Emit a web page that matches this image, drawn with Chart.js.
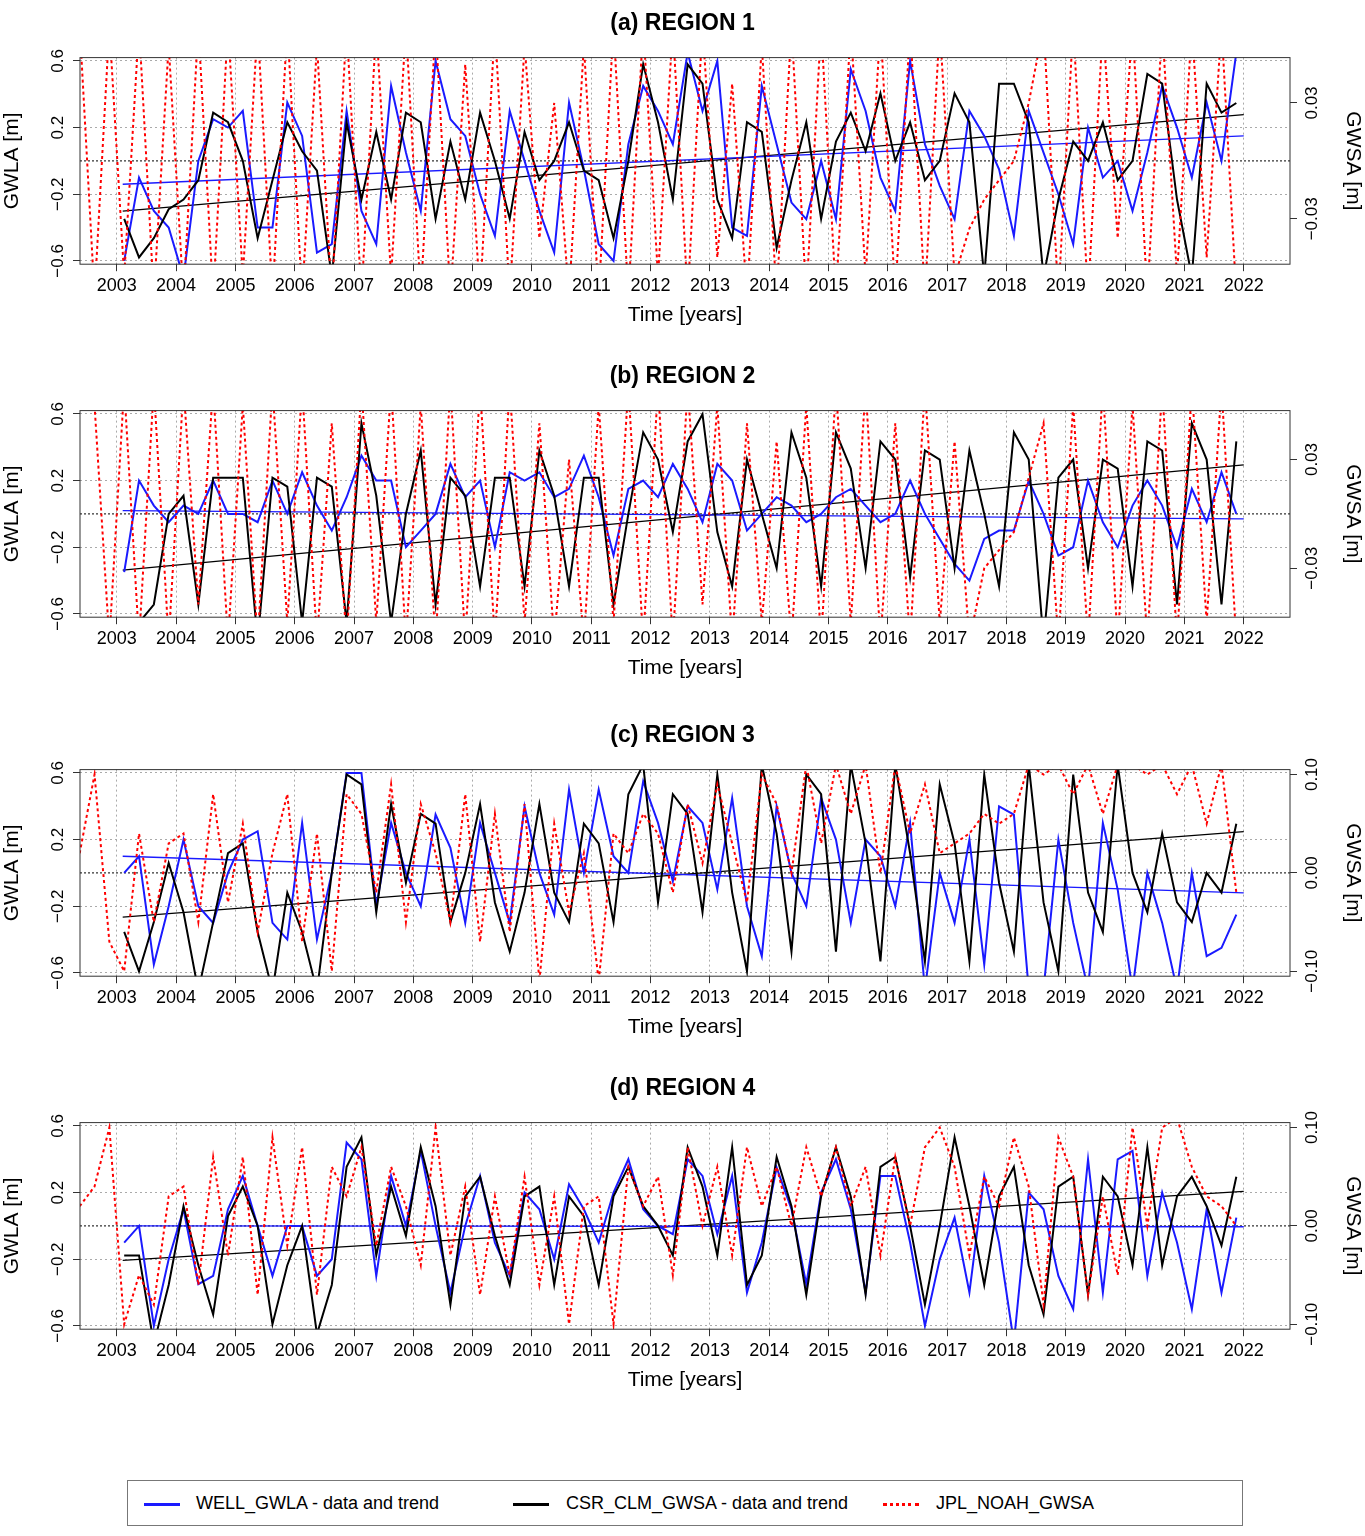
<!DOCTYPE html>
<html><head><meta charset="utf-8">
<script src="https://cdn.jsdelivr.net/npm/chart.js@4.4.1/dist/chart.umd.min.js"></script>
<style>
body{margin:0;background:#fff;font-family:"Liberation Sans",Arial,sans-serif;}
.p{position:absolute;left:0;width:1365px;height:354px;}
#legend{position:absolute;left:127px;top:1480px;width:1114px;height:44px;border:1px solid #777;font-size:18px;}
.it{position:absolute;top:12px;}
.sw{position:absolute;top:22px;width:36px;height:0;}
</style></head><body>
<div class="p" style="top:0"><canvas id="ca"></canvas></div>
<div class="p" style="top:353px"><canvas id="cb"></canvas></div>
<div class="p" style="top:712px"><canvas id="cc"></canvas></div>
<div class="p" style="top:1065px"><canvas id="cd"></canvas></div>
<div id="legend">
 <div class="sw" style="left:16px;border-top:3px solid #1a1aff"></div><div class="it" style="left:68px">WELL_GWLA - data and trend</div>
 <div class="sw" style="left:385px;border-top:3px solid #000"></div><div class="it" style="left:438px">CSR_CLM_GWSA - data and trend</div>
 <div class="sw" style="left:755px;border-top:3px dotted #f00"></div><div class="it" style="left:808px">JPL_NOAH_GWSA</div>
</div>
<script>
const years=[2003,2004,2005,2006,2007,2008,2009,2010,2011,2012,2013,2014,2015,2016,2017,2018,2019,2020,2021,2022];
const leftTicks=[-0.6,-0.2,0.2,0.6];
const leftLabels=["\u22120.6","\u22120.2","0.2","0.6"];
const rightTicksAB=[-0.03,0.03], rightLabelsAB=["\u22120.03","0.03"];
const rightTicksCD=[-0.1,0,0.1], rightLabelsCD=["\u22120.10","0.00","0.10"];
const wellStart=2003.125, jplStart=2002.375, step=0.25;
const trendT=[2003.1,2022];

const wellA=[-0.6,-0.1,-0.3,-0.4, -0.7,0.0,0.25,0.2, 0.3,-0.4,-0.4,0.35, 0.15,-0.55,-0.5,0.3, -0.3,-0.5,0.45,0.05, -0.3,0.6,0.25,0.15, -0.2,-0.45,0.3,0.0, -0.3,-0.55,0.35,-0.05, -0.5,-0.6,0.1,0.45, 0.3,0.1,0.65,0.3, 0.6,-0.4,-0.45,0.45, 0.1,-0.25,-0.35,0.0, -0.35,0.55,0.3,-0.1, -0.3,0.6,0.1,-0.15, -0.35,0.3,0.15,-0.05, -0.45,0.3,0.05,-0.2, -0.5,0.2,-0.1,0.0, -0.3,0.05,0.45,0.2, -0.1,0.35,0.0,0.65];
const csrA=[-0.03,-0.05,-0.04,-0.025, -0.02,-0.01,0.025,0.02, 0.0,-0.04,-0.01,0.02, 0.005,-0.005,-0.06,0.02, -0.02,0.015,-0.02,0.025, 0.02,-0.03,0.01,-0.02, 0.025,0.0,-0.03,0.015, -0.01,0.0,0.02,-0.005, -0.01,-0.04,0.0,0.05, 0.02,-0.02,0.05,0.04, -0.02,-0.04,0.02,0.015, -0.045,-0.01,0.02,-0.03, 0.01,0.025,0.005,0.035, 0.0,0.02,-0.01,0.0, 0.035,0.02,-0.06,0.04, 0.04,0.02,-0.06,-0.02, 0.01,0.0,0.02,-0.01, 0.0,0.045,0.04,-0.02, -0.06,0.04,0.025,0.03];
const jplA=[0.07,-0.07,0.07, -0.06,0.07,-0.07,0.06, -0.07,0.07,-0.07,0.07, -0.06,0.07,-0.07,0.07, -0.07,0.06,-0.07,0.07, -0.07,0.07,-0.06,0.07, -0.07,0.07,-0.07,0.05, -0.07,0.07,-0.07,0.06, -0.04,0.03,-0.07,0.06, -0.07,0.07,-0.07,0.07, -0.06,0.07,-0.07,0.07, -0.05,0.04,-0.07,0.06, -0.07,0.07,-0.07,0.07, -0.07,0.07,-0.06,0.07, -0.07,0.07,-0.07,0.07, -0.06,-0.035,-0.02,-0.01, 0.0,0.03,0.07,-0.07, 0.07,-0.07,0.07,-0.04, 0.07,-0.07,0.07,-0.06, 0.07,-0.05,0.07,-0.07];
const wellTrendA=[-0.14,0.15], csrTrendA=[-0.026,0.024];

const wellB=[-0.35,0.2,0.05,-0.05, 0.05,0.0,0.2,0.0, 0.0,-0.05,0.2,0.0, 0.25,0.05,-0.1,0.1, 0.35,0.2,0.2,-0.2, -0.1,0.0,0.3,0.1, 0.2,-0.2,0.25,0.2, 0.25,0.1,0.15,0.35, 0.1,-0.25,0.15,0.2, 0.1,0.3,0.15,-0.05, 0.3,0.2,-0.1,0.0, 0.1,0.05,-0.05,0.0, 0.1,0.15,0.05,-0.05, 0.0,0.2,0.0,-0.15, -0.3,-0.4,-0.15,-0.1, -0.1,0.2,0.0,-0.25, -0.2,0.2,-0.05,-0.2, 0.05,0.2,0.05,-0.2, 0.15,-0.05,0.25,0.0];
const csrB=[-0.06,-0.06,-0.05,0.0, 0.01,-0.05,0.02,0.02, 0.02,-0.07,0.02,0.015, -0.06,0.02,0.015,-0.06, 0.05,0.01,-0.06,0.0, 0.035,-0.05,0.02,0.01, -0.04,0.02,0.02,-0.04, 0.035,0.01,-0.04,0.02, 0.02,-0.05,0.0,0.045, 0.03,-0.01,0.04,0.055, -0.01,-0.04,0.03,0.0, -0.03,0.045,0.02,-0.04, 0.045,0.025,-0.03,0.04, 0.03,-0.035,0.035,0.03, -0.03,0.035,0.0,-0.04, 0.045,0.03,-0.07,0.02, 0.03,-0.03,0.03,0.025, -0.04,0.04,0.035,-0.05, 0.05,0.03,-0.05,0.04];
const jplB=[0.07,0.06,-0.07, 0.07,-0.07,0.07,-0.07, 0.07,-0.05,0.07,-0.07, 0.06,-0.07,0.07,-0.06, 0.07,-0.07,0.05,-0.07, 0.07,-0.06,0.07,-0.07, 0.06,-0.07,0.07,-0.07, 0.07,-0.07,0.07,-0.06, 0.05,-0.07,0.03,-0.07, 0.06,-0.06,0.07,-0.07, 0.07,-0.07,0.07,-0.05, 0.06,-0.07,0.05,-0.06, 0.04,-0.07,0.06,-0.07, 0.07,-0.06,0.07,-0.07, 0.05,-0.07,0.07,-0.06, 0.04,-0.07,-0.03,-0.02, -0.01,0.02,0.05,-0.07, 0.06,-0.07,0.07,-0.07, 0.06,-0.07,0.07,-0.07, 0.07,-0.06,0.07,-0.07];
const wellTrendB=[0.02,-0.03], csrTrendB=[-0.031,0.027];

const wellC=[0.0,0.1,-0.55,-0.2, 0.2,-0.2,-0.3,0.0, 0.2,0.25,-0.3,-0.4, 0.3,-0.4,0.0,0.6, 0.6,-0.2,0.3,0.0, -0.2,0.35,0.15,-0.3, 0.3,0.0,-0.3,0.4, 0.0,-0.25,0.5,0.0, 0.5,0.1,0.0,0.55, 0.3,-0.05,0.4,0.3, -0.1,0.45,-0.2,-0.5, 0.4,0.0,-0.2,0.45, 0.2,-0.3,0.2,0.1, -0.2,0.3,-0.7,0.0, -0.3,0.2,-0.55,0.4, 0.35,-0.7,-0.7,0.2, -0.3,-0.7,0.3,-0.1, -0.7,0.0,-0.3,-0.7, 0.0,-0.5,-0.45,-0.25];
const csrC=[-0.06,-0.1,-0.05,0.01, -0.04,-0.12,-0.05,0.02, 0.03,-0.06,-0.12,-0.02, -0.06,-0.12,0.0,0.1, 0.09,-0.04,0.07,-0.01, 0.06,0.05,-0.05,0.0, 0.07,-0.03,-0.08,-0.02, 0.07,-0.02,-0.05,0.05, 0.03,-0.05,0.08,0.11, -0.03,0.08,0.06,-0.04, 0.1,-0.02,-0.1,0.11, 0.04,-0.08,0.1,0.08, -0.08,0.11,0.03,-0.09, 0.11,0.02,-0.09,0.09, 0.03,-0.09,0.1,-0.01, -0.08,0.11,-0.03,-0.1, 0.1,-0.02,-0.06,0.11, 0.0,-0.04,0.04,-0.03, -0.05,0.0,-0.02,0.05];
const jplC=[0.02,0.1,-0.07, -0.1,0.04,-0.05,0.03, 0.04,-0.05,0.08,-0.03, 0.05,-0.06,0.02,0.08, -0.07,0.04,-0.1,0.08, 0.06,-0.02,0.09,-0.05, 0.07,0.02,-0.05,0.08, -0.07,0.06,-0.06,0.07, -0.11,0.05,-0.04,0.02, -0.11,0.04,0.02,0.06, 0.04,-0.02,0.07,0.01, 0.09,0.03,-0.03,0.1, 0.07,0.0,0.11,0.03, 0.11,0.06,0.11,0.0, 0.11,0.04,0.09,0.02, 0.03,0.04,0.06,0.05, 0.06,0.11,0.1,0.11, 0.08,0.11,0.06,0.11, 0.11,0.1,0.11,0.08, 0.11,0.05,0.11,-0.02];
const wellTrendC=[0.1,-0.12], csrTrendC=[-0.045,0.042];

const wellD=[-0.1,0.0,-0.6,-0.2, 0.1,-0.35,-0.3,0.1, 0.3,0.0,-0.3,0.0, 0.0,-0.3,-0.2,0.5, 0.4,-0.3,0.3,0.0, 0.45,0.0,-0.4,0.0, 0.3,-0.1,-0.3,0.2, 0.1,-0.2,0.25,0.1, -0.1,0.2,0.4,0.1, 0.0,-0.05,0.4,0.3, -0.05,0.3,-0.4,-0.1, 0.35,0.1,-0.35,0.2, 0.4,0.1,-0.4,0.3, 0.3,-0.1,-0.6,-0.2, 0.05,-0.4,0.3,-0.1, -0.7,0.2,0.1,-0.3, -0.5,0.4,-0.4,0.4, 0.45,-0.3,0.2,-0.1, -0.5,0.1,-0.4,0.05];
const csrD=[-0.03,-0.03,-0.12,-0.06, 0.02,-0.04,-0.09,0.01, 0.04,0.0,-0.1,-0.04, 0.0,-0.11,-0.06,0.06, 0.09,-0.03,0.04,-0.01, 0.08,0.02,-0.08,0.03, 0.05,-0.01,-0.06,0.03, 0.04,-0.06,0.03,0.01, -0.06,0.03,0.06,0.02, 0.0,-0.03,0.08,0.04, -0.03,0.08,-0.06,-0.03, 0.07,0.02,-0.07,0.03, 0.08,0.03,-0.07,0.06, 0.07,0.0,-0.08,0.0, 0.09,0.02,-0.06,0.03, 0.06,-0.04,-0.09,0.04, 0.05,-0.07,0.05,0.03, -0.04,0.08,-0.04,0.03, 0.05,0.02,-0.02,0.05];
const jplD=[0.02,0.04,0.1, -0.1,-0.05,-0.08,0.03, 0.04,-0.06,0.07,-0.03, 0.07,-0.07,0.09,-0.02, 0.08,-0.07,0.06,0.03, 0.08,-0.02,0.06,0.02, -0.04,0.1,-0.03,0.04, -0.07,0.03,-0.05,0.05, -0.06,0.03,-0.1,0.02, 0.03,-0.1,0.06,0.02, 0.05,-0.05,0.08,0.0, 0.06,-0.03,0.08,0.02, 0.06,0.0,0.08,0.03, 0.08,0.02,0.06,-0.03, 0.07,0.0,0.08,0.1, 0.06,-0.03,0.05,0.02, 0.09,0.04,-0.08,0.09, 0.05,-0.07,0.03,-0.05, 0.1,0.0,0.1,0.11, 0.06,0.03,0.02,0.0];
const wellTrendD=[0.0,-0.005], csrTrendD=[-0.035,0.035];

const FONT='"Liberation Sans", Arial, sans-serif';
function pts(arr,start){return arr.map((v,i)=>({x:start+i*step,y:v}));}
function tr(a){return [{x:trendT[0],y:a[0]},{x:trendT[1],y:a[1]}];}

const deco={id:'deco',
 afterDraw(c){const ctx=c.ctx,a=c.chartArea,o=c.options.plugins.deco;
  ctx.save();ctx.strokeStyle='#333';ctx.lineWidth=1;ctx.strokeRect(a.left,a.top,a.right-a.left,a.bottom-a.top);
  ctx.fillStyle='#000';ctx.font='17px '+FONT;ctx.textAlign='center';ctx.textBaseline='middle';
  const y=c.scales.y,y2=c.scales.y2;
  leftTicks.forEach((t,i)=>{const p=y.getPixelForValue(t);ctx.save();ctx.translate(a.left-22,p);ctx.rotate(-Math.PI/2);ctx.fillText(leftLabels[i],0,0);ctx.restore();});
  o.rt.forEach((t,i)=>{const p=y2.getPixelForValue(t);ctx.save();ctx.translate(a.right+22,p);ctx.rotate(-Math.PI/2);ctx.fillText(o.rl[i],0,0);ctx.restore();});
  ctx.restore();}};

function panel(id,title,well,csr,jpl,wt,ct,r2,rt,rl){
 const ds=[
  {data:pts(jpl,jplStart),yAxisID:'y2',borderColor:'#f00',borderDash:[3,3],borderWidth:2},
  {data:pts(csr,wellStart),yAxisID:'y2',borderColor:'#000',borderWidth:2},
  {data:pts(well,wellStart),yAxisID:'y',borderColor:'#1a1aff',borderWidth:2},
  {data:tr(wt),yAxisID:'y',borderColor:'#1a1aff',borderWidth:1.3},
  {data:tr(ct),yAxisID:'y2',borderColor:'#000',borderWidth:1.3},
  {data:[{x:2002.38,y:0},{x:2022.78,y:0}],yAxisID:'y',borderColor:'#000',borderWidth:1,borderDash:[2,2]}];
 ds.forEach(d=>{d.pointRadius=0;d.tension=0;d.fill=false;});
 new Chart(document.getElementById(id),{type:'line',data:{datasets:ds},
  options:{responsive:true,maintainAspectRatio:false,animation:false,
   layout:{padding:{top:0,bottom:22,left:0,right:0}},
   plugins:{legend:{display:false},tooltip:{enabled:false},
    title:{display:true,text:title,color:'#000',font:{family:FONT,size:23,weight:'bold'},padding:{top:10,bottom:20}},
    deco:{rt:rt,rl:rl}},
   scales:{
    x:{type:'linear',min:2002.38,max:2022.78,
     afterBuildTicks:s=>{s.ticks=years.map(v=>({value:v}));},
     ticks:{color:'#000',font:{family:FONT,size:18},maxRotation:0,padding:4,callback:v=>String(v)},
     grid:{color:'#aaa',tickColor:'#333',tickLength:7},border:{display:false,dash:[2,3]},
     title:{display:true,text:'Time [years]',color:'#000',font:{family:FONT,size:21},padding:{top:2}}},
    y:{position:'left',min:-0.62,max:0.62,
     afterBuildTicks:s=>{s.ticks=leftTicks.map(v=>({value:v}));},
     afterFit:s=>{s.width=80;},
     ticks:{display:false},
     grid:{color:'#aaa',tickColor:'#333',tickLength:7},border:{display:false,dash:[2,3]},
     title:{display:true,text:'GWLA [m]',color:'#000',font:{family:FONT,size:21},padding:0}},
    y2:{position:'right',min:-r2,max:r2,
     afterBuildTicks:s=>{s.ticks=rt.map(v=>({value:v}));},
     afterFit:s=>{s.width=75;},
     ticks:{display:false},
     grid:{drawOnChartArea:false,tickColor:'#333',tickLength:7},border:{display:false},
     title:{display:true,text:'GWSA [m]',color:'#000',font:{family:FONT,size:21},padding:0}}}},
  plugins:[deco]});
}
panel('ca','(a) REGION 1',wellA,csrA,jplA,wellTrendA,csrTrendA,0.0535,rightTicksAB,rightLabelsAB);
panel('cb','(b) REGION 2',wellB,csrB,jplB,wellTrendB,csrTrendB,0.057,rightTicksAB,rightLabelsAB);
panel('cc','(c) REGION 3',wellC,csrC,jplC,wellTrendC,csrTrendC,0.105,rightTicksCD,rightLabelsCD);
panel('cd','(d) REGION 4',wellD,csrD,jplD,wellTrendD,csrTrendD,0.105,rightTicksCD,rightLabelsCD);
</script></body></html>
